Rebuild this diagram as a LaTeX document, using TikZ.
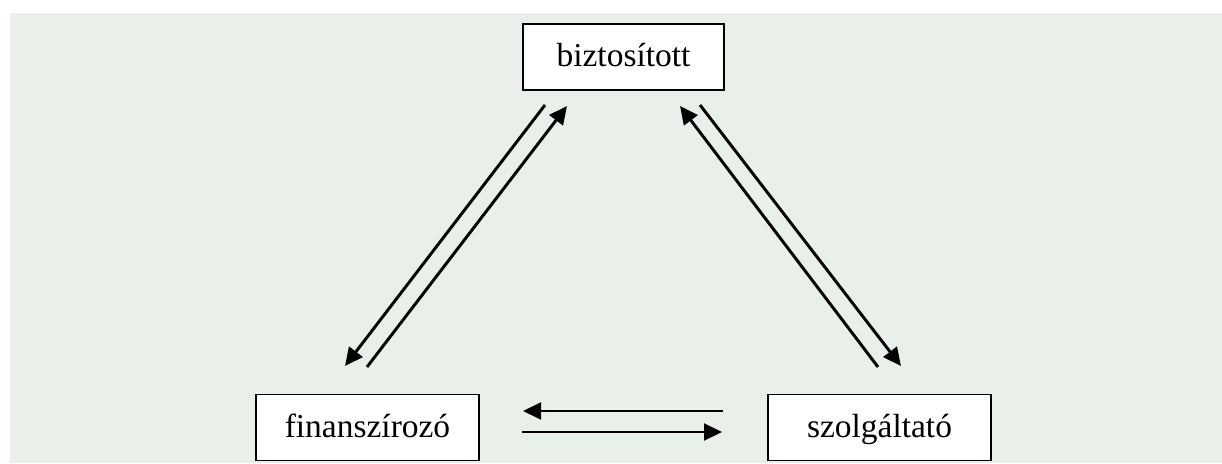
\documentclass[tikz,border=0pt]{standalone}
\usepackage{fontspec}
\setmainfont{Liberation Serif}
\usetikzlibrary{arrows.meta}

\def\s{0.025}
\def\punkt#1#2{({#1*\s},{(463-#2)*\s})}
\definecolor{hinter}{RGB}{233,240,234}

\begin{document}
\begin{tikzpicture}[>={Triangle[length=0.45cm,width=0.42cm]},
	line width=2.1pt,
	box/.style={draw,line width=1.4pt,fill=white,minimum width=5.575cm,
		minimum height=1.65cm,inner sep=0pt,text height=0.62cm,
		text depth=0.12cm,font=\fontsize{23.8}{28}\selectfont}]

\useasboundingbox \punkt{0}{0} rectangle \punkt{1222}{463};
\fill[hinter] \punkt{10}{13} rectangle \punkt{1222}{463};

% Knoten
\node[box,minimum width=5.025cm] (bizt) at \punkt{623.5}{57} {biztosított};
\node[box] (fin) at \punkt{367.5}{427.5} {finanszírozó};
\node[box] (szolg) at \punkt{879.5}{427.5} {szolgáltató};

% Endpunkte der Pfeile
\path \punkt{545}{105} coordinate (bf1);
\path \punkt{345}{366} coordinate (bf2);
\path \punkt{367}{367} coordinate (fb1);
\path \punkt{567}{106} coordinate (fb2);

\path \punkt{878}{367} coordinate (sb1);
\path \punkt{680}{106} coordinate (sb2);
\path \punkt{700}{105} coordinate (bs1);
\path \punkt{901}{366} coordinate (bs2);

\path \punkt{723}{411} coordinate (sf1);
\path \punkt{523}{411} coordinate (sf2);
\path \punkt{522}{432} coordinate (fs1);
\path \punkt{722}{432} coordinate (fs2);

\draw[->] (bf1) -- (bf2);
\draw[->] (fb1) -- (fb2);
\draw[->] (sb1) -- (sb2);
\draw[->] (bs1) -- (bs2);
\draw[->] (sf1) -- (sf2);
\draw[->] (fs1) -- (fs2);

\end{tikzpicture}
\end{document}
